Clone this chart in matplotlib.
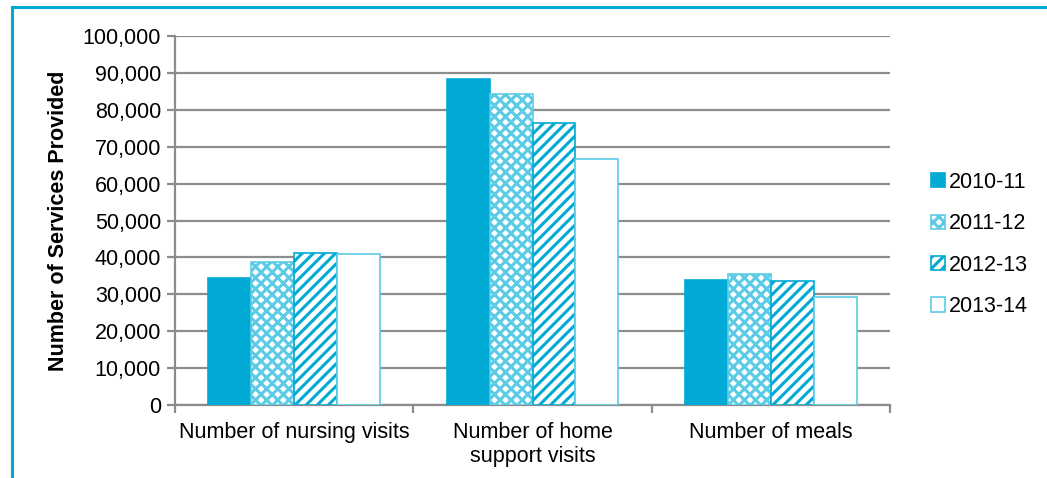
import numpy as np
import matplotlib.pyplot as plt
from matplotlib.lines import Line2D
from matplotlib.ticker import FuncFormatter

plt.rcParams['font.family'] = ['Liberation Sans', 'DejaVu Sans']
plt.rcParams['hatch.linewidth'] = 2.2

categories = ["Number of nursing visits", "Number of home\nsupport visits", "Number of meals"]
years = ["2010-11", "2011-12", "2012-13", "2013-14"]
v_2010 = [34400, 88300, 33900]
v_2011 = [38800, 84300, 35500]
v_2012 = [41200, 76400, 33600]
v_2013 = [40900, 66700, 29300]

blue = "#00aad4"
light = "#5ccbe6"
fs = 15.5

fig = plt.figure(figsize=(10.47, 4.78), dpi=100)
ax = fig.add_axes([175/1047, 1 - 405/478, 715/1047, 369/478])

x = np.arange(len(categories))
w = 0.18
series = [v_2010, v_2011, v_2012, v_2013]
styles = [
    dict(color=blue, edgecolor=blue, hatch=None),
    dict(color="white", edgecolor=light, hatch="xxx"),
    dict(color="white", edgecolor=blue, hatch="///"),
    dict(color="white", edgecolor=light, hatch=None),
]
handles = []
for i, (vals, st) in enumerate(zip(series, styles)):
    bars = ax.bar(x + (i - 1.5) * w, vals, w, facecolor=st["color"],
                  edgecolor=st["edgecolor"], hatch=st["hatch"], linewidth=1.2,
                  label=years[i], zorder=3)
    handles.append(bars)

ax.set_xlim(-0.5, 2.5)
ax.set_ylim(0, 100000)
ax.set_yticks(np.arange(0, 100001, 10000))
ax.yaxis.set_major_formatter(FuncFormatter(lambda v, p: f"{int(v):,}"))
ax.grid(axis="y", color="#8c8c8c", linewidth=1.6, zorder=0)
ax.set_xticks(x)
ax.set_xticklabels(categories, fontsize=fs)
ax.tick_params(axis="x", length=0, pad=12)
ax.set_xticks([-0.5, 0.5, 1.5, 2.5], minor=True)
ax.tick_params(axis="x", which="minor", length=6, color="#8c8c8c", width=1.6)
ax.tick_params(axis="y", labelsize=fs, length=6, color="#8c8c8c", width=1.6, pad=4)
for s in ["top", "right"]:
    ax.spines[s].set_visible(False)
for s in ["left", "bottom"]:
    ax.spines[s].set_color("#8c8c8c")
    ax.spines[s].set_linewidth(1.6)

ax.set_ylabel("Number of Services Provided", fontsize=fs, fontweight="bold", labelpad=10)

leg = ax.legend(handles=handles, loc="center left", bbox_to_anchor=(1.03, 0.435),
                frameon=False, fontsize=fs, handlelength=0.65, handleheight=0.65,
                handletextpad=0.2, labelspacing=0.95)

# border of the panel
fig.add_artist(Line2D([12/1047, 1], [1 - 7/478, 1 - 7/478], color=blue, linewidth=2.2))
fig.add_artist(Line2D([12/1047, 12/1047], [0, 1 - 7/478], color=blue, linewidth=2.2))

fig.savefig("out.png", dpi=100)
